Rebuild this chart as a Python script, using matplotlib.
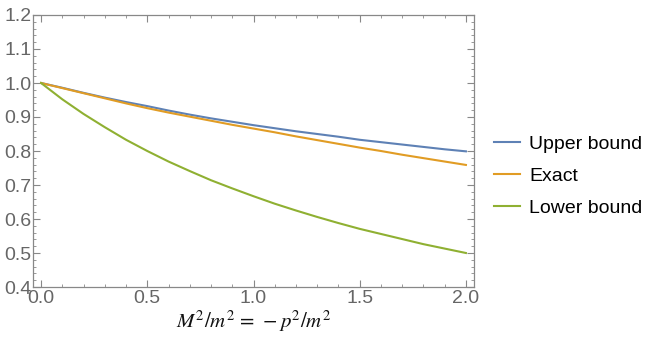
import matplotlib
matplotlib.use("Agg")
import matplotlib.pyplot as plt
from matplotlib.ticker import MultipleLocator

# values
x = [0.0, 0.1, 0.2, 0.3, 0.4, 0.5, 0.6, 0.7, 0.8, 0.9, 1.0,
     1.1, 1.2, 1.3, 1.4, 1.5, 1.6, 1.7, 1.8, 1.9, 2.0]
upper = [1.0, 0.986, 0.971, 0.957, 0.944, 0.932, 0.919, 0.907, 0.896, 0.886, 0.876,
         0.867, 0.858, 0.850, 0.842, 0.833, 0.826, 0.819, 0.812, 0.805, 0.799]
exact = [1.0, 0.985, 0.970, 0.955, 0.940, 0.926, 0.913, 0.901, 0.889, 0.877, 0.866,
         0.855, 0.843, 0.832, 0.821, 0.810, 0.800, 0.789, 0.779, 0.769, 0.759]
lower = [1.0, 0.952, 0.909, 0.870, 0.833, 0.800, 0.769, 0.741, 0.714, 0.690, 0.667,
         0.645, 0.625, 0.606, 0.588, 0.571, 0.556, 0.541, 0.526, 0.513, 0.500]
labels = ["Upper bound", "Exact", "Lower bound"]
colors = ["#5E81B5", "#E19C24", "#8FB032"]

plt.rcParams['font.family'] = ['Liberation Sans', 'DejaVu Sans']
plt.rcParams['mathtext.fontset'] = 'stix'

fig = plt.figure(figsize=(6.59, 3.56), dpi=100)
ax = fig.add_axes([33/659, 1-287/356, 441/659, 272/356])

for ys, lab, c in zip([upper, exact, lower], labels, colors):
    ax.plot(x, ys, color=c, lw=1.5, label=lab)

ax.set_xlim(-0.038, 2.038)
ax.set_ylim(0.4, 1.2)
ax.xaxis.set_major_locator(MultipleLocator(0.5))
ax.xaxis.set_minor_locator(MultipleLocator(0.1))
ax.yaxis.set_major_locator(MultipleLocator(0.1))
ax.yaxis.set_minor_locator(MultipleLocator(0.02))
ax.xaxis.set_major_formatter(lambda v, p: f"{v:.1f}")
ax.yaxis.set_major_formatter(lambda v, p: f"{v:.1f}")

gray = "#666666"
for s in ax.spines.values():
    s.set_color("#888888")
    s.set_linewidth(0.9)
ax.tick_params(which='both', direction='in', top=True, right=True,
               colors="#888888", labelcolor=gray, labelsize=14)
ax.tick_params(which='major', length=5, width=0.8)
ax.tick_params(which='minor', length=2.5, width=0.6)
ax.tick_params(axis='x', pad=2)
ax.tick_params(axis='y', pad=1)

ax.set_xlabel(r"$M^2/m^2\,=\,-p^2/m^2$", fontsize=15, color="#111111", labelpad=1)

fig.legend(loc='center left', bbox_to_anchor=(494/659, 1-176/356),
           frameon=False, fontsize=14, handlelength=1.35, handletextpad=0.45,
           labelspacing=0.75, borderpad=0, borderaxespad=0)

fig.savefig("out.png", dpi=100)
